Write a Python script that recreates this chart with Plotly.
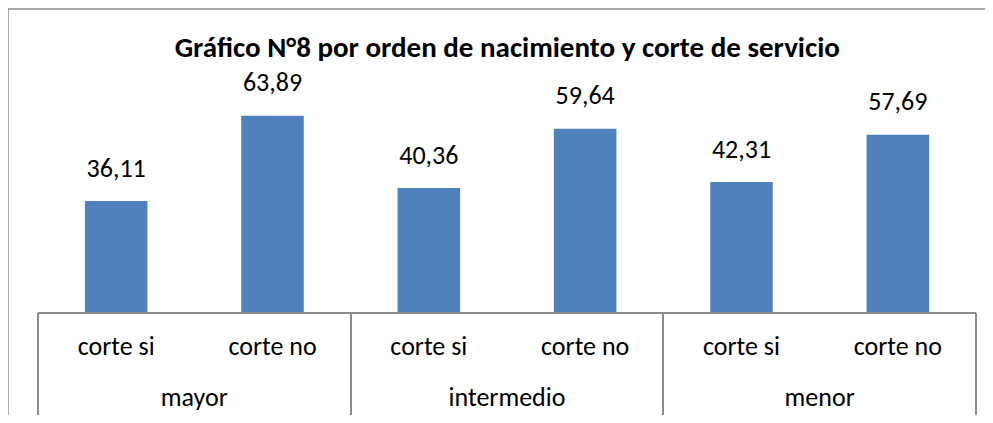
import plotly.graph_objects as go

groups = ["mayor", "mayor", "intermedio", "intermedio", "menor", "menor"]
subcats = ["corte si", "corte no", "corte si", "corte no", "corte si", "corte no"]
values = [36.11, 63.89, 40.36, 59.64, 42.31, 57.69]
title = "Gráfico N°8 por orden de nacimiento y corte de servicio"

FONT = "Calibri, Carlito, Lato, sans-serif"
GRAY = "#8c8c8c"

keys = [f"{g}|{s}" for g, s in zip(groups, subcats)]
group_names = list(dict.fromkeys(groups))

fig = go.Figure()
fig.add_trace(go.Bar(
    x=keys, y=values,
    marker=dict(color="#4F81BD", line=dict(width=0)),
    hoverinfo="skip",
))
fig.add_trace(go.Scatter(
    x=keys, y=values,
    mode="markers+text",
    marker=dict(size=27, opacity=0),
    text=[f"{v:.2f}".replace(".", ",") for v in values],
    textposition="top center",
    textfont=dict(family=FONT, size=26, color="black"),
    cliponaxis=False,
    hoverinfo="skip",
))
fig.add_trace(go.Scatter(
    x=group_names, y=[0] * len(group_names), xaxis="x2",
    mode="markers", marker=dict(size=1, opacity=0),
    hoverinfo="skip",
))

fig.update_layout(
    width=977, height=407,
    margin=dict(l=30, r=9, t=89, b=103, autoexpand=False),
    paper_bgcolor="white", plot_bgcolor="white",
    bargap=0.6,
    showlegend=False,
    title=dict(text="<b>" + title + "</b>", x=0.511, xanchor="center", y=0.904, yanchor="middle",
               font=dict(family=FONT, size=29, color="black")),
    font=dict(family=FONT, size=26, color="black"),
    xaxis=dict(type="category", categoryorder="array", categoryarray=keys,
               tickvals=keys, ticktext=subcats, range=[-0.5, len(keys) - 0.5],
               showline=True, linecolor=GRAY, linewidth=1.5, ticks="",
               ticklabelstandoff=10, showgrid=False, automargin=False,
               tickfont=dict(family=FONT, size=26, color="black")),
    xaxis2=dict(type="category", categoryorder="array", categoryarray=group_names,
                overlaying="x", side="bottom", anchor="y",
                range=[-0.5, len(group_names) - 0.5],
                showline=False, ticks="outside", tickson="boundaries", ticklen=112,
                tickcolor=GRAY, tickwidth=1.5, showgrid=False, automargin=False,
                ticklabelstandoff=67,
                tickfont=dict(family=FONT, size=26, color="black")),
    yaxis=dict(range=[0, 70], visible=False),
    shapes=[
        dict(type="line", xref="paper", yref="paper", x0=-0.032, x1=1.05, y0=1.409, y1=1.409,
             line=dict(color=GRAY, width=1.5), layer="below"),
        dict(type="line", xref="paper", yref="paper", x0=-0.032, x1=-0.032, y0=-0.7, y1=1.409,
             line=dict(color=GRAY, width=1.5), layer="below"),
    ],
)

fig.write_html("out.html")
